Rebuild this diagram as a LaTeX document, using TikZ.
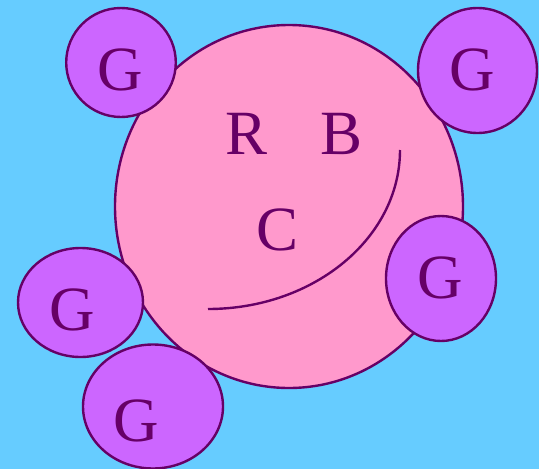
\documentclass[tikz,border=0pt]{standalone}
\usepackage{fontspec}
\setmainfont{Liberation Serif}
\definecolor{bgblue}{HTML}{66CCFF}
\definecolor{pinkfill}{HTML}{FF99CC}
\definecolor{violetfill}{HTML}{CC66FF}
\definecolor{darkline}{HTML}{660066}
\tikzset{
  outline/.style={draw=darkline, line width=2.4pt},
  bigblob/.style={outline, fill=pinkfill},
  gblob/.style={outline, fill=violetfill},
  letter/.style={text=darkline, font=\fontsize{63}{63}\selectfont, inner sep=0pt, anchor=center},
}
\begin{document}
\begin{tikzpicture}[x=1pt, y=-1pt]
\fill[bgblue] (0,0) rectangle (539,469);
\useasboundingbox (0,0) rectangle (539,469);
% big ellipse
\path[bigblob] (289,206.5) ellipse [x radius=174, y radius=181.5];
% arc
\coordinate (arcstart) at (400,150);
\draw[darkline, line width=2.4pt] (arcstart) arc [start angle=0, end angle=90, x radius=192, y radius=159] coordinate (arcend);
\node[letter] (R) at (247,134) {R};
\node[letter] (B) at (341.5,134) {B};
\node[letter] (C) at (278,230) {C};
% G blobs
\path[gblob] (121,62.5) ellipse [x radius=54.8, y radius=54.5];
\path[gblob] (477.5,70.5) ellipse [x radius=59.5, y radius=62.5];
\path[gblob] (441,278.5) ellipse [x radius=55, y radius=62.5];
\path[gblob] (80.5,302.5) ellipse [x radius=62.5, y radius=54.5];
\path[gblob] (153,406.5) ellipse [x radius=70, y radius=62];
\node[letter] (G1) at (120.5,70) {G};
\node[letter] (G2) at (472.5,69.5) {G};
\node[letter] (G3) at (440.5,277.5) {G};
\node[letter] (G4) at (72.5,309.5) {G};
\node[letter] (G5) at (136.5,421) {G};
\end{tikzpicture}
\end{document}
